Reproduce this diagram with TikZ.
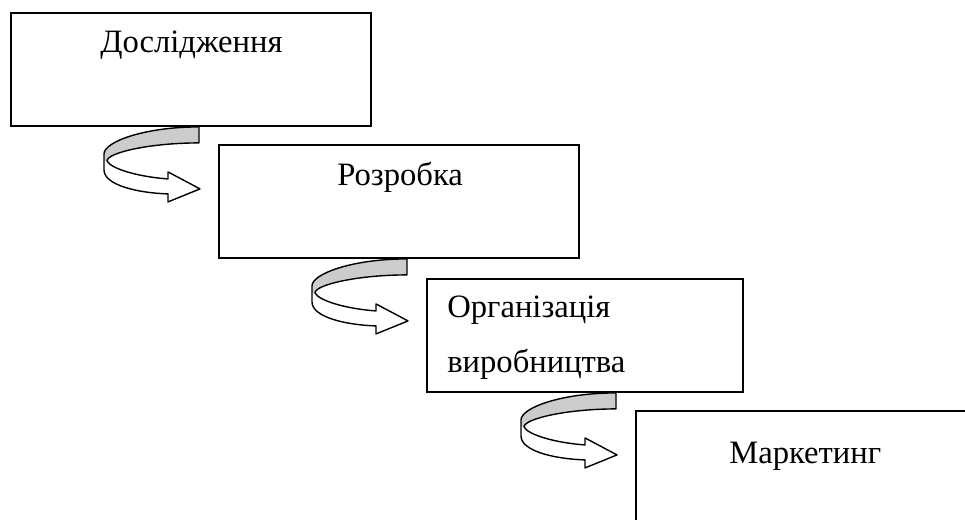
\documentclass[tikz,border=0pt]{standalone}
\usepackage{fontspec}
\setmainfont{Liberation Serif}
\usetikzlibrary{calc, positioning}

\tikzset{
	turnarrow/.pic={
		\fill[gray!40] (0,0) -- (0,16) .. controls (-50,16) and (-92,26) .. (-92,34) -- (-95,34) -- (-95,27) .. controls (-95,15) and (-55,0) .. (0,0) -- cycle;
		\draw[line width=1pt, line join=round] (0,0) -- (0,16) .. controls (-50,16) and (-92,26) .. (-92,34) .. controls (-88,42) and (-60,50) .. (-31,52) -- (-31,45) -- (1,62) -- (-31,75) -- (-31,67) .. controls (-62,66) and (-95,58) .. (-95,43) -- (-95,27) .. controls (-95,15) and (-55,0) .. (0,0) -- cycle;
	}
}

\begin{document}
\begin{tikzpicture}[x=0.025cm, y=-0.025cm,
	stagebox/.style={draw, line width=1.2pt, rectangle, anchor=north west, minimum height=2.83cm},
	stagetext/.style={anchor=base west, inner sep=0pt, font=\fontsize{23.2}{28}\selectfont}]
			\clip (0,0) rectangle (965,519);
			\node[stagebox, minimum width=9cm] (research) at (10,12) {};
			\node[stagebox, minimum width=9cm] (develop) at (218,144) {};
			\node[stagebox, minimum width=7.9cm] (organize) at (426,278) {};
			\node[stagebox, minimum width=8.5cm, minimum height=3cm] (market) at (635,410) {};
			\node[stagetext] (research-text) at (100,53) {Дослідження};
			\node[stagetext] (develop-text) at (337,185) {Розробка};
			\node[stagetext] (organize-text) at (447,317) {Організація};
			\node[stagetext] (organize-text2) at (447,372) {виробництва};
			\node[stagetext] (market-text) at (729,463) {Маркетинг};
			\pic at ($(research.south west)+(189,0)$) {turnarrow};
			\pic at ($(develop.south west)+(189,0)$) {turnarrow};
			\pic at ($(organize.south west)+(190,0)$) {turnarrow};
\end{tikzpicture}
\end{document}
